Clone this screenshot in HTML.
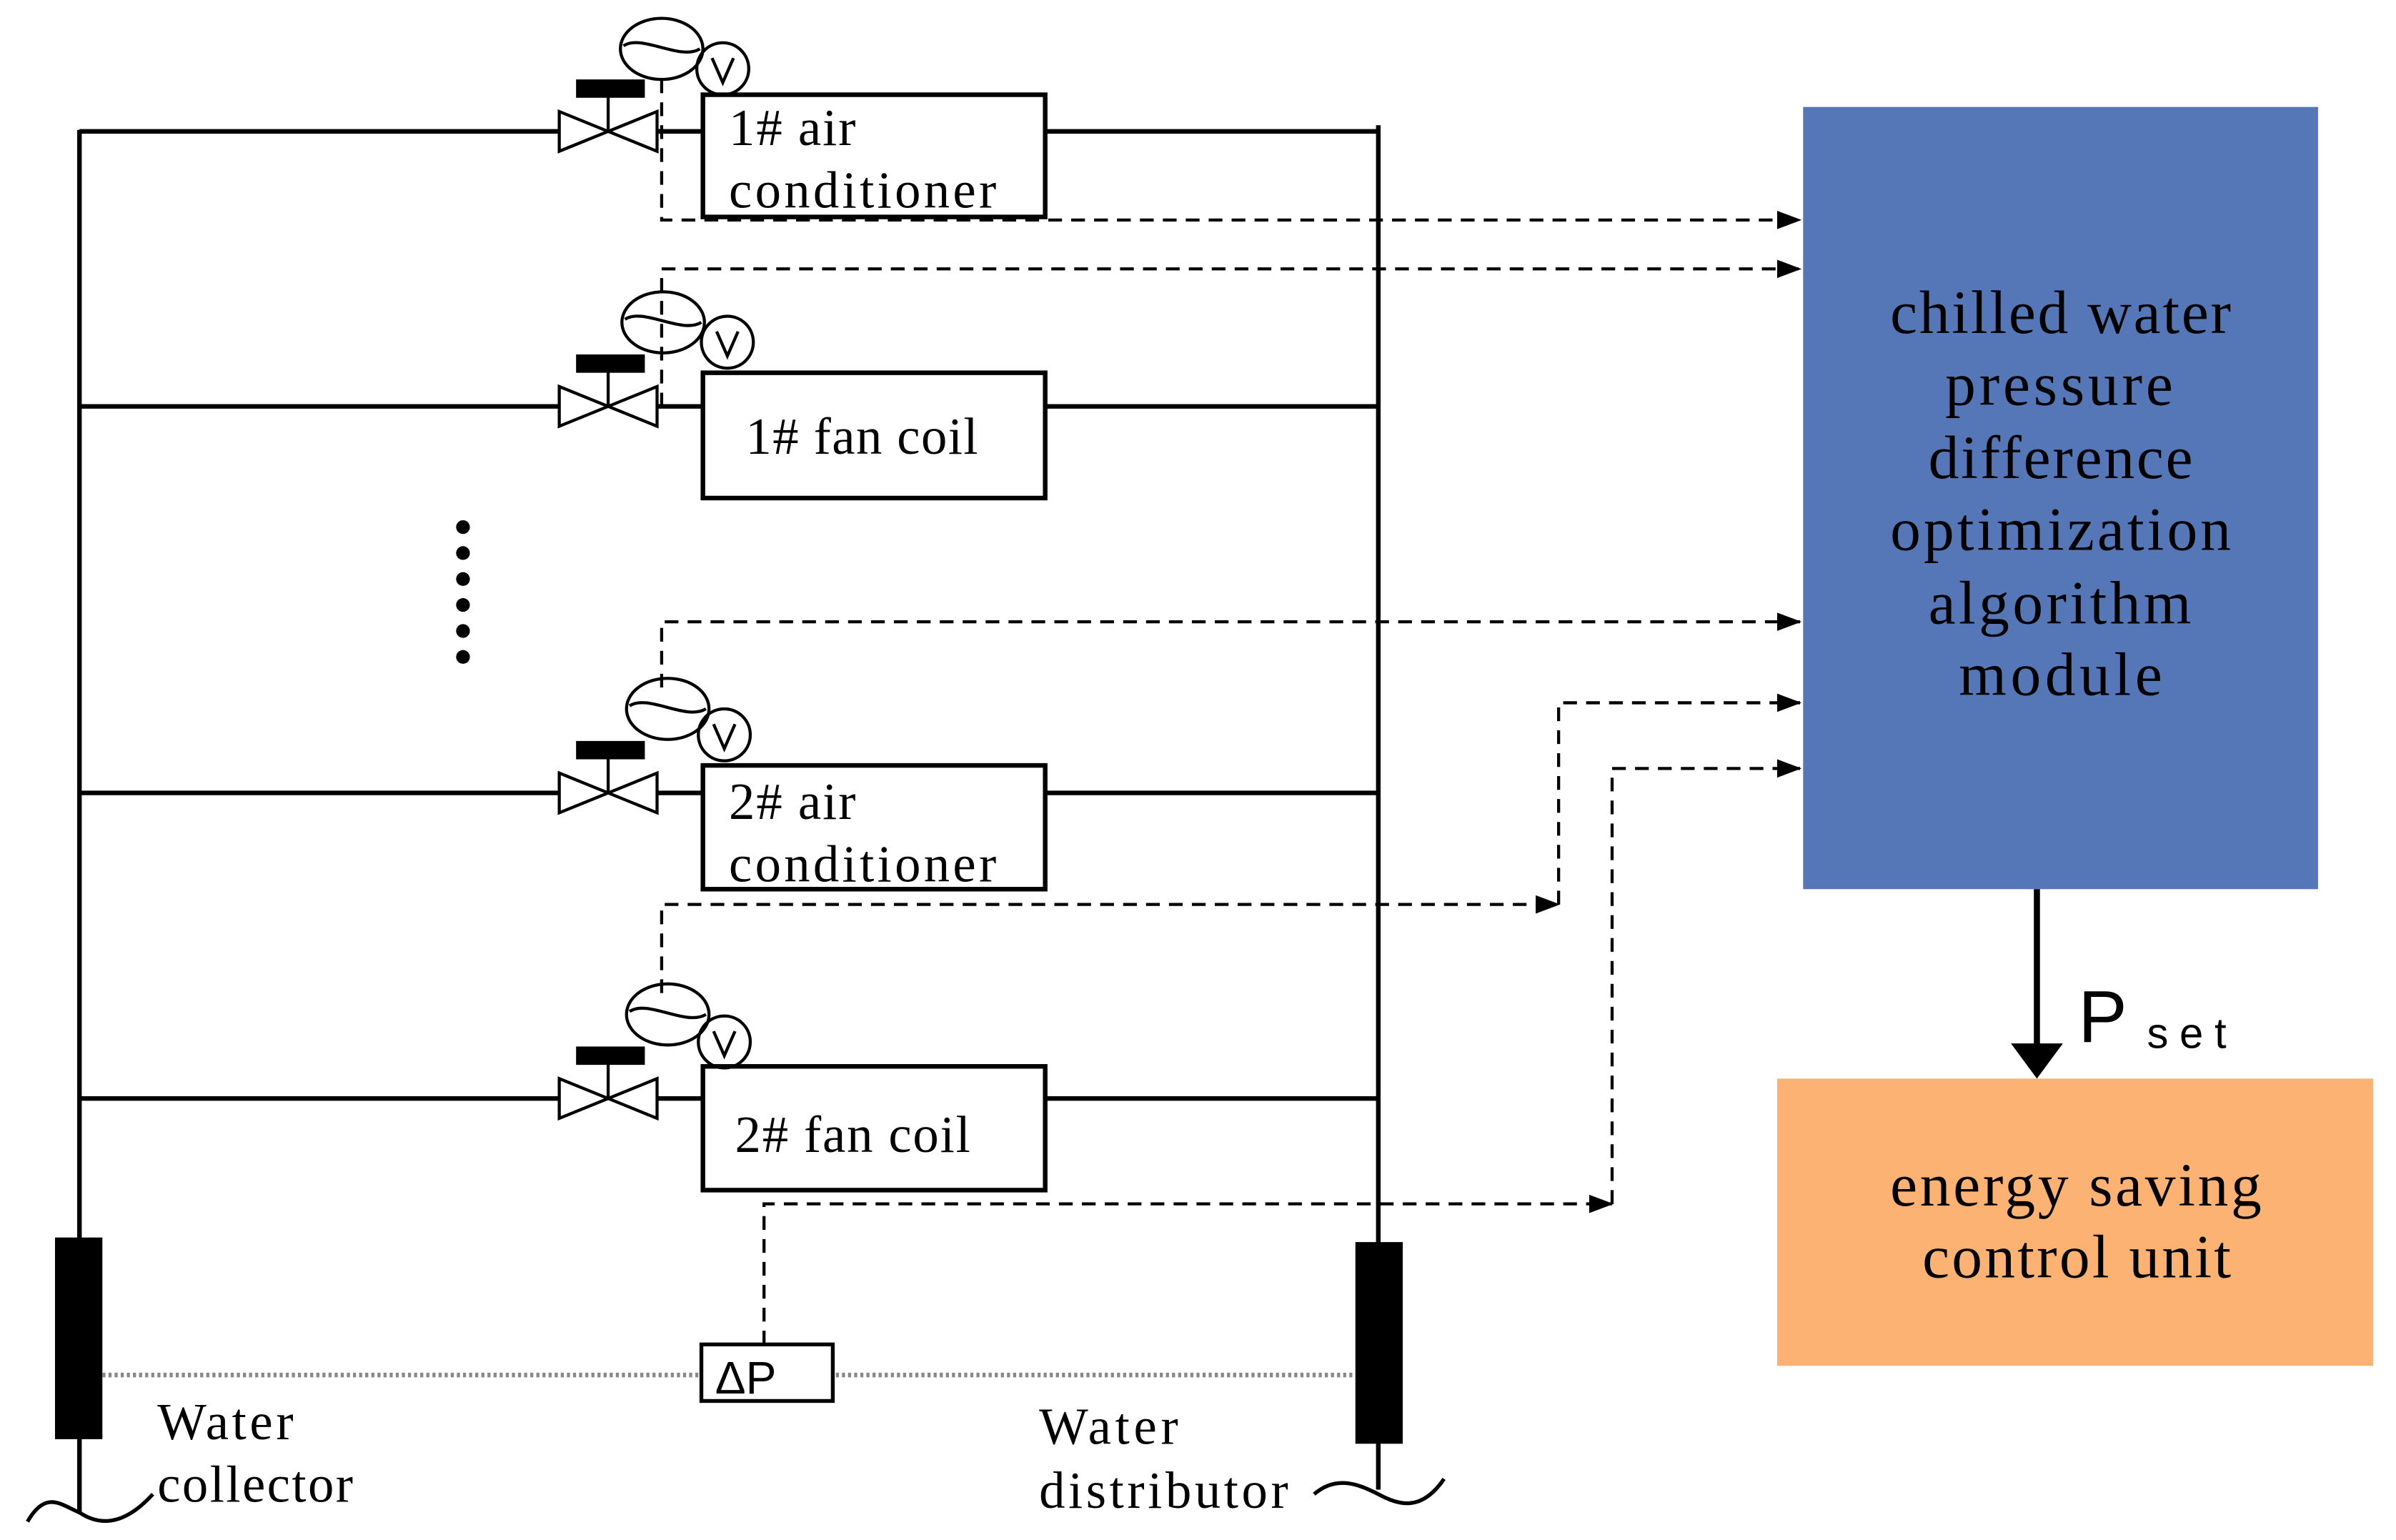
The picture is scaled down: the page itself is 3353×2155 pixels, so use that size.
<!DOCTYPE html>
<html><head><meta charset="utf-8"><style>
html,body{margin:0;padding:0;background:#fff;}
svg{display:block;}
.t{font-family:"Liberation Serif",serif;font-size:34px;fill:#000;}
.b{font-family:"Liberation Serif",serif;font-size:40px;fill:#000;}
</style></head><body>
<svg width="3353" height="2155" viewBox="0 0 1568 1008" preserveAspectRatio="none" xmlns="http://www.w3.org/2000/svg">
<defs>
<marker id="ah" markerWidth="16" markerHeight="12" refX="15" refY="6" orient="auto" markerUnits="userSpaceOnUse">
<path d="M0,0 L16,6 L0,12 Z" fill="#000"/></marker>
<g id="valve">
<path d="M-32,-13 L32,13 L32,-13 L-32,13 Z" fill="#fff" stroke="#000" stroke-width="2"/>
<line x1="0" y1="0" x2="0" y2="-24" stroke="#000" stroke-width="2"/>
<rect x="-21" y="-34" width="45" height="12" fill="#000"/>
</g>
</defs>
<line x1="52" y1="85" x2="52" y2="990" stroke="#000" stroke-width="3"/>
<line x1="902" y1="82" x2="902" y2="975" stroke="#000" stroke-width="3"/>
<rect x="36" y="810" width="31" height="132" fill="#000"/>
<rect x="887" y="813" width="31" height="132" fill="#000"/>
<path d="M18,996 C30,975 40,985 52,990 C64,998 80,1000 100,978" fill="none" stroke="#000" stroke-width="2.5"/>
<path d="M860,978 C875,965 890,972 902,978 C915,985 930,990 945,968" fill="none" stroke="#000" stroke-width="2.5"/>
<g stroke="#000" stroke-width="3">
<line x1="52" y1="86" x2="366" y2="86"/><line x1="430" y1="86" x2="460" y2="86"/><line x1="684" y1="86" x2="902" y2="86"/>
<line x1="52" y1="266" x2="366" y2="266"/><line x1="430" y1="266" x2="460" y2="266"/><line x1="684" y1="266" x2="902" y2="266"/>
<line x1="52" y1="519" x2="366" y2="519"/><line x1="430" y1="519" x2="460" y2="519"/><line x1="684" y1="519" x2="902" y2="519"/>
<line x1="52" y1="719" x2="366" y2="719"/><line x1="430" y1="719" x2="460" y2="719"/><line x1="684" y1="719" x2="902" y2="719"/>
</g>
<use href="#valve" x="398" y="86"/>
<use href="#valve" x="398" y="266"/>
<use href="#valve" x="398" y="519"/>
<use href="#valve" x="398" y="719"/>
<g fill="#fff" stroke="#000" stroke-width="3">
<rect x="460" y="62" width="224" height="80"/>
<rect x="460" y="244" width="224" height="82"/>
<rect x="460" y="501" width="224" height="81"/>
<rect x="460" y="698" width="224" height="81"/>
</g>
<text class="t" x="477" y="95" textLength="83">1# air</text>
<text class="t" x="477" y="136" textLength="175">conditioner</text>
<text class="t" x="488" y="297" textLength="152">1# fan coil</text>
<text class="t" x="477" y="536" textLength="83">2# air</text>
<text class="t" x="477" y="577" textLength="175">conditioner</text>
<text class="t" x="481" y="754" textLength="154">2# fan coil</text>
<g fill="none" stroke="#000" stroke-width="2">
<ellipse cx="433" cy="32" rx="27" ry="20"/><path d="M408,30 C420,22 445,40 458,32"/><circle cx="473" cy="45" r="17"/>
<ellipse cx="434" cy="211" rx="27" ry="20"/><path d="M409,209 C421,201 446,219 459,211"/><circle cx="476" cy="224" r="17"/>
<ellipse cx="437" cy="464" rx="27" ry="20"/><path d="M412,462 C424,454 449,472 462,464"/><circle cx="474" cy="481" r="17"/>
<ellipse cx="437" cy="664" rx="27" ry="20"/><path d="M412,662 C424,654 449,672 462,664"/><circle cx="474" cy="682" r="17"/>
<path d="M466,38 L473,54 L480,38"/><path d="M469,217 L476,233 L483,217"/><path d="M467,474 L474,490 L481,474"/><path d="M467,675 L474,691 L481,675"/>
</g>
<g fill="#000"><circle cx="303" cy="345" r="4.5"/><circle cx="303" cy="362" r="4.5"/><circle cx="303" cy="379" r="4.5"/><circle cx="303" cy="396" r="4.5"/><circle cx="303" cy="413" r="4.5"/><circle cx="303" cy="430" r="4.5"/></g>
<g fill="none" stroke="#000" stroke-width="2" stroke-dasharray="9,6">
<path d="M433,52 L433,144 L1178,144" marker-end="url(#ah)"/>
<path d="M433,266 L433,176 L1178,176" marker-end="url(#ah)"/>
<path d="M433,450 L433,407 L1178,407" marker-end="url(#ah)"/>
<path d="M433,650 L433,592 L1020,592" marker-end="url(#ah)"/>
<path d="M1020,592 L1020,460 L1178,460" marker-end="url(#ah)"/>
<path d="M500,880 L500,788 L1055,788" marker-end="url(#ah)"/>
<path d="M1055,788 L1055,503 L1178,503" marker-end="url(#ah)"/>
</g>
<line x1="67" y1="900" x2="887" y2="900" stroke="#888" stroke-width="3" stroke-dasharray="2,2"/>
<rect x="459" y="880" width="86" height="37" fill="#fff" stroke="#000" stroke-width="2.5"/>
<text x="468" y="912" font-family="Liberation Sans,sans-serif" font-size="30" fill="#000">ΔP</text>
<text class="t" x="103" y="942" textLength="89">Water</text>
<text class="t" x="103" y="983" textLength="128">collector</text>
<text class="t" x="680" y="945" textLength="91">Water</text>
<text class="t" x="680" y="987" textLength="163">distributor</text>
<rect x="1180" y="70" width="337" height="512" fill="#5577b7"/>
<g class="b">
<text x="1237" y="218" textLength="223">chilled water</text>
<text x="1273" y="265" textLength="149">pressure</text>
<text x="1262" y="313" textLength="173">difference</text>
<text x="1237" y="360" textLength="223">optimization</text>
<text x="1262" y="408" textLength="172">algorithm</text>
<text x="1282" y="455" textLength="133">module</text>
</g>
<line x1="1333" y1="582" x2="1333" y2="685" stroke="#000" stroke-width="4"/>
<path d="M1316,683 L1350,683 L1333,706 Z" fill="#000"/>
<text x="1360" y="682" font-family="Liberation Sans,sans-serif" font-size="48" fill="#000" textLength="38">P</text>
<text x="1405" y="686" font-family="Liberation Sans,sans-serif" font-size="28" fill="#000" textLength="52">set</text>
<rect x="1163" y="706" width="390" height="188" fill="#fbb272"/>
<g class="b">
<text x="1237" y="789" textLength="243">energy saving</text>
<text x="1258" y="836" textLength="202">control unit</text>
</g>
</svg>
</body></html>
